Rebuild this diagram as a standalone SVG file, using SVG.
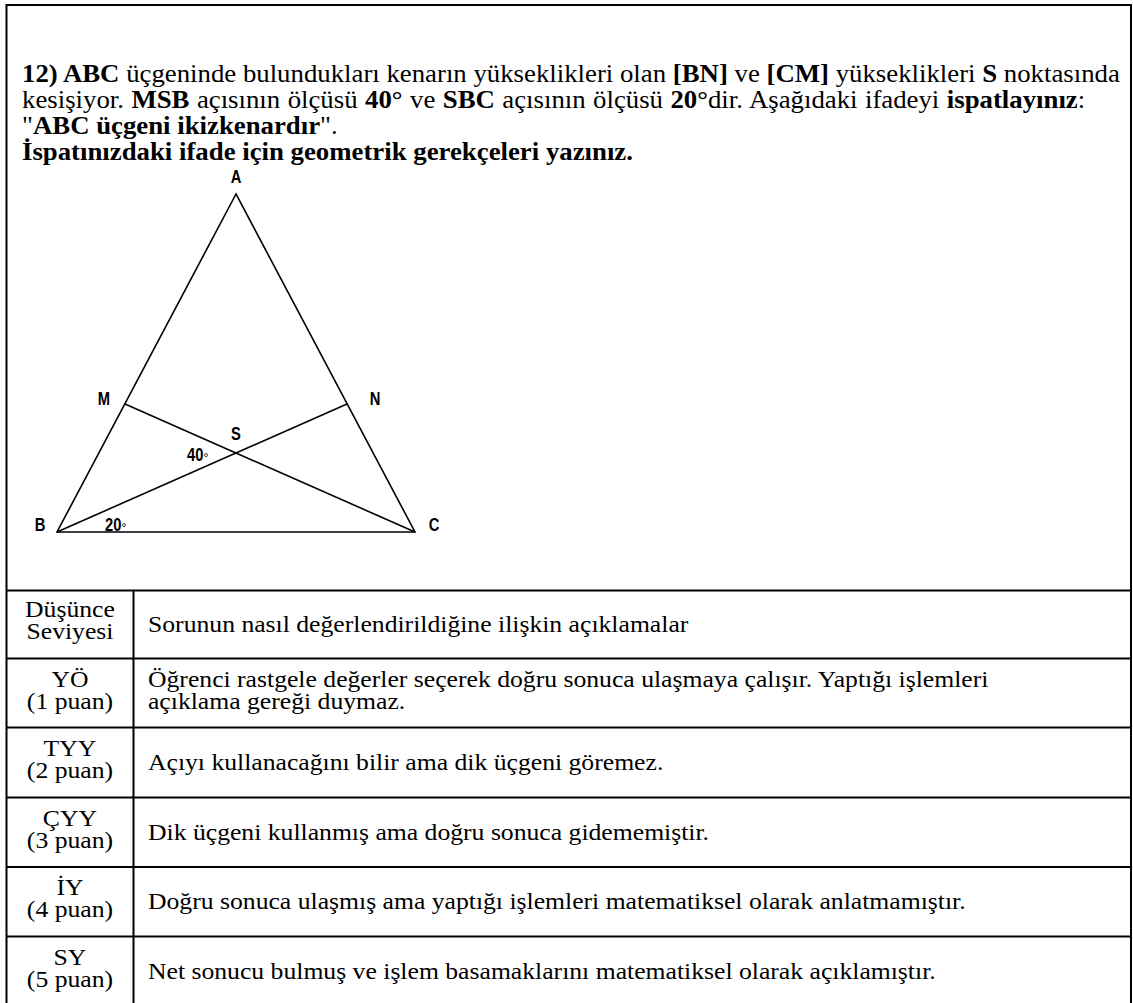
<svg xmlns="http://www.w3.org/2000/svg" width="1133" height="1003" viewBox="0 0 1133 1003">
<style>
.t{font-family:"Liberation Serif","Times New Roman",serif;font-size:24.5px;fill:#000}
.c{font-family:"Liberation Serif","Times New Roman",serif;font-size:24px;fill:#000}
.m{text-anchor:middle}
.b{font-weight:bold}
.grid{stroke:#000;stroke-width:2;fill:none}
.fig{stroke:#000;stroke-width:1.6;fill:none}
.lbl{font-family:"Liberation Sans",Arial,sans-serif;font-weight:bold;font-size:18px;fill:#000}
.deg{font-weight:normal;font-size:15px}
</style>
<rect width="1133" height="1003" fill="#fff"/>
<g id="table" class="grid">
<rect x="6.5" y="5" width="1124.5" height="1010"/>
<line x1="6.5" y1="590.5" x2="1131" y2="590.5"/>
<line x1="133.5" y1="590.5" x2="133.5" y2="1010"/>
<line x1="6.5" y1="658.5" x2="1131" y2="658.5"/>
<line x1="6.5" y1="727.5" x2="1131" y2="727.5"/>
<line x1="6.5" y1="797.5" x2="1131" y2="797.5"/>
<line x1="6.5" y1="867" x2="1131" y2="867"/>
<line x1="6.5" y1="936.5" x2="1131" y2="936.5"/>
</g>
<g id="question" transform="scale(1.094,1)">
<text class="t" x="20.1" y="82"><tspan class="b">12) ABC</tspan> üçgeninde bulundukları kenarın yükseklikleri olan <tspan class="b">[BN]</tspan> ve <tspan class="b">[CM]</tspan> yükseklikleri <tspan class="b">S</tspan> noktasında</text>
<text class="t" x="20.1" y="108" word-spacing="0.7">kesişiyor. <tspan class="b">MSB</tspan> açısının ölçüsü <tspan class="b">40°</tspan> ve <tspan class="b">SBC</tspan> açısının ölçüsü <tspan class="b">20°</tspan>dir. Aşağıdaki ifadeyi <tspan class="b">ispatlayınız</tspan>:</text>
<text class="t" x="20.1" y="134">"<tspan class="b">ABC üçgeni ikizkenardır</tspan>".</text>
<text class="t b" x="20.1" y="160">İspatınızdaki ifade için geometrik gerekçeleri yazınız.</text>
</g>
<g id="figure">
<path class="fig" d="M236,194 L57,532 L415,532 Z"/>
<g id="heights" class="fig">
<line x1="125" y1="404" x2="415" y2="532"/>
<line x1="347" y1="404" x2="57" y2="532"/>
</g>
<g id="labels">
<text class="lbl m" transform="translate(236,183) scale(0.82,1)">A</text>
<text class="lbl m" transform="translate(104,405) scale(0.82,1)">M</text>
<text class="lbl m" transform="translate(375,405) scale(0.82,1)">N</text>
<text class="lbl m" transform="translate(236,440) scale(0.82,1)">S</text>
<text class="lbl m" transform="translate(40,531) scale(0.82,1)">B</text>
<text class="lbl m" transform="translate(434,531) scale(0.82,1)">C</text>
<text class="lbl" transform="translate(187,461) scale(0.82,1)">40<tspan class="deg" dy="2">°</tspan></text>
<text class="lbl" transform="translate(105,531) scale(0.82,1)">20<tspan class="deg" dy="2">°</tspan></text>
</g>
</g>
<g id="rows" transform="scale(1.07,1)">
<text class="c m" x="65.4" y="617">Düşünce</text>
<text class="c m" x="65.4" y="639">Seviyesi</text>
<text class="c" x="138.3" y="632">Sorunun nasıl değerlendirildiğine ilişkin açıklamalar</text>
<text class="c m" x="65.4" y="687">YÖ</text>
<text class="c m" x="65.4" y="709">(1 puan)</text>
<text class="c" x="138.3" y="687">Öğrenci rastgele değerler seçerek doğru sonuca ulaşmaya çalışır. Yaptığı işlemleri</text>
<text class="c" x="138.3" y="709">açıklama gereği duymaz.</text>
<text class="c m" x="65.4" y="756">TYY</text>
<text class="c m" x="65.4" y="778">(2 puan)</text>
<text class="c" x="138.3" y="770">Açıyı kullanacağını bilir ama dik üçgeni göremez.</text>
<text class="c m" x="65.4" y="826">ÇYY</text>
<text class="c m" x="65.4" y="848">(3 puan)</text>
<text class="c" x="138.3" y="840">Dik üçgeni kullanmış ama doğru sonuca gidememiştir.</text>
<text class="c m" x="65.4" y="895">İY</text>
<text class="c m" x="65.4" y="917">(4 puan)</text>
<text class="c" x="138.3" y="909.5">Doğru sonuca ulaşmış ama yaptığı işlemleri matematiksel olarak anlatmamıştır.</text>
<text class="c m" x="65.4" y="965">SY</text>
<text class="c m" x="65.4" y="987">(5 puan)</text>
<text class="c" x="138.3" y="979">Net sonucu bulmuş ve işlem basamaklarını matematiksel olarak açıklamıştır.</text>
</g>
</svg>
